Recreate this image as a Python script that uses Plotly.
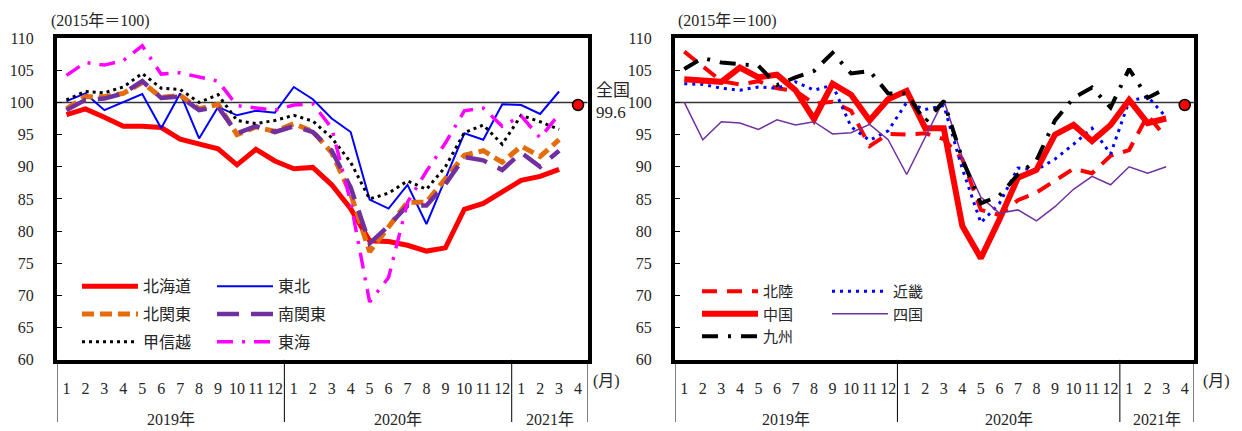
import plotly.graph_objects as go

# ---------------- data ----------------
periods = [f"{y}-{m:02d}" for y in (2019, 2020) for m in range(1, 13)] + [f"2021-{m:02d}" for m in range(1, 5)]
month_labels = [str(m) for m in range(1, 13)] * 2 + ["1", "2", "3", "4"]
year_labels = ["2019年", "2020年", "2021年"]
data_periods = periods[:27]          # 2019-01 .. 2021-03
national_period = periods[27]        # 2021-04
national = 99.6

hokkaido = [98.1, 99.0, 97.7, 96.3, 96.3, 96.1, 94.3, 93.5, 92.8, 90.3, 92.7, 90.9, 89.7, 89.9,
            87.2, 83.5, 78.5, 78.4, 77.8, 76.9, 77.4, 83.4, 84.3, 86.1, 87.9, 88.5, 89.6]
tohoku = [100.2, 101.4, 98.8, 100.0, 101.3, 96.0, 101.4, 94.4, 99.3, 98.0, 98.7, 98.4, 102.4, 100.5,
          97.5, 95.4, 84.9, 83.5, 87.2, 81.1, 88.3, 95.2, 94.2, 99.7, 99.6, 98.2, 101.7]
kitakanto = [99.0, 100.9, 100.9, 101.4, 103.1, 100.8, 101.1, 99.0, 99.7, 95.0, 96.2, 95.5, 96.7, 95.5,
             92.2, 85.8, 76.8, 80.8, 84.5, 84.5, 88.3, 91.8, 92.5, 90.7, 93.2, 91.6, 94.2]
minamikanto = [98.8, 100.4, 100.6, 101.4, 103.3, 100.7, 100.9, 98.8, 99.3, 95.2, 96.3, 95.4, 96.3, 95.4,
               92.5, 86.8, 78.1, 80.8, 84.0, 84.0, 87.3, 91.5, 91.0, 89.5, 92.2, 90.0, 92.5]
koshinetsu = [100.4, 101.7, 101.5, 102.4, 104.5, 102.2, 102.0, 100.0, 101.2, 97.2, 96.7, 97.2, 98.0, 97.1,
              94.5, 90.7, 85.0, 85.9, 87.8, 86.5, 90.0, 95.3, 96.5, 93.5, 98.0, 97.0, 95.8]
tokai = [104.2, 106.2, 105.8, 106.5, 108.8, 104.4, 104.6, 103.9, 103.3, 99.5, 99.2, 98.8, 99.6, 99.8,
         96.0, 84.5, 69.0, 72.8, 84.5, 89.3, 93.7, 98.7, 99.1, 96.3, 97.9, 94.5, 98.2]

hokuriku = [107.9, 105.5, 103.3, 102.8, 103.3, 102.2, 101.8, 99.8, 100.1, 98.7, 93.2, 95.1, 95.0, 95.2,
            94.3, 91.2, 83.3, 82.5, 84.8, 86.0, 87.8, 89.7, 89.0, 91.7, 92.6, 98.0, 94.5]
kinki = [102.9, 102.8, 102.2, 101.9, 102.4, 102.2, 103.2, 101.9, 102.7, 96.2, 94.1, 95.6, 100.0, 98.9,
         99.5, 89.7, 81.3, 84.3, 89.8, 89.5, 91.2, 93.5, 96.0, 92.0, 100.2, 100.9, 97.7]
chugoku = [103.6, 103.3, 103.2, 105.4, 103.9, 104.3, 101.9, 97.4, 102.9, 101.2, 97.2, 100.5, 101.8, 96.0,
           96.0, 80.8, 75.8, 81.8, 88.3, 89.5, 95.0, 96.5, 94.0, 96.5, 100.4, 96.8, 97.5]
shikoku = [100.0, 94.2, 97.0, 96.8, 95.8, 97.3, 96.5, 97.0, 95.1, 95.3, 96.6, 94.2, 88.8, 94.6,
           100.4, 91.5, 85.3, 82.8, 83.3, 81.6, 83.8, 86.5, 88.5, 87.2, 90.0, 89.0, 90.0]
kyushu = [105.2, 106.9, 106.2, 106.0, 105.7, 102.7, 103.9, 104.9, 107.7, 104.5, 104.9, 101.4, 101.4, 97.0,
          100.2, 91.2, 84.3, 85.5, 88.8, 91.0, 97.2, 100.7, 102.3, 99.2, 105.2, 100.7, 102.2]

# ---------------- styling ----------------
W, H = 1242, 431
FONT = "'Liberation Serif', 'Noto Sans CJK JP', serif"
TXT = "#262626"
RED, BLUE, ORANGE, PURPLE, MAGENTA, BLACK = "#FF0000", "#0000FF", "#E46C0A", "#7030A0", "#FF00FF", "#000000"


def px(x):
    return x / W


def py(y):
    return 1 - y / H


y_dom = [py(366.3), py(31.3)]
x_doms = [[px(57.0), px(587.5)], [px(675.0), px(1194.0)]]

left_series = [
    ("北海道", hokkaido, RED, 5, "solid", "legend"),
    ("東北", tohoku, BLUE, 2, "solid", "legend2"),
    ("北関東", kitakanto, ORANGE, 5, "12px,6px", "legend"),
    ("南関東", minamikanto, PURPLE, 4.5, "22px,12px", "legend2"),
    ("甲信越", koshinetsu, BLACK, 3, "3px,4px", "legend"),
    ("東海", tokai, MAGENTA, 3.5, "16px,9px,3px,9px", "legend2"),
]
right_series = [
    ("北陸", hokuriku, RED, 4, "15px,10px", "legend3"),
    ("近畿", kinki, BLUE, 3, "3px,5px", "legend4"),
    ("中国", chugoku, RED, 6, "solid", "legend3"),
    ("四国", shikoku, PURPLE, 1.5, "solid", "legend4"),
    ("九州", kyushu, BLACK, 4, "16px,10px,3px,10px", "legend3"),
]

fig = go.Figure()
for k, series in enumerate([left_series, right_series]):
    xa = "x" if k == 0 else "x2"
    ya = "y" if k == 0 else "y2"
    for name, vals, color, width, dash, leg in series:
        fig.add_trace(go.Scatter(
            x=data_periods, y=vals, name=name, mode="lines",
            line=dict(color=color, width=width, dash=dash),
            xaxis=xa, yaxis=ya, legend=leg, legendgroup=name,
        ))
    fig.add_trace(go.Scatter(
        x=[national_period], y=[national], mode="markers", showlegend=False,
        marker=dict(color=RED, size=11, line=dict(color=BLACK, width=1.5)),
        xaxis=xa, yaxis=ya, cliponaxis=False,
    ))

axis_common = dict(showline=True, mirror=True, linewidth=4, linecolor=BLACK, showgrid=False, zeroline=False)
layout = dict(
    width=W, height=H, margin=dict(l=0, r=0, t=0, b=0),
    paper_bgcolor="white", plot_bgcolor="white",
    font=dict(family=FONT, size=16, color=TXT),
    shapes=[], annotations=[],
)
for k in range(2):
    sx = "" if k == 0 else "2"
    layout["xaxis" + sx] = dict(
        axis_common, domain=x_doms[k], type="category", categoryorder="array", categoryarray=periods,
        range=[-0.5, 27.5], tickmode="array", tickvals=periods, ticktext=month_labels,
        ticks="", tickfont=dict(family=FONT, size=16, color=TXT), ticklabelstandoff=11,
        anchor="y" + sx,
    )
    layout["yaxis" + sx] = dict(
        axis_common, domain=y_dom, range=[60, 110], dtick=5, tick0=60,
        ticks="inside", ticklen=5, tickwidth=1, tickcolor=BLACK,
        tickfont=dict(family=FONT, size=16, color=TXT), ticklabelstandoff=16,
        anchor="x" + sx,
    )
    xr = "x" + sx
    # reference line at 100
    layout["shapes"].append(dict(type="line", xref=xr + " domain", x0=0, x1=1, yref="y" + sx, y0=100, y1=100,
                                 line=dict(color="#333333", width=1.5), layer="below"))
    # year separators below the axis
    for b in (-0.5, 11.5, 23.5, 27.5):
        layout["shapes"].append(dict(type="line", xref=xr, x0=b, x1=b, yref="paper", y0=0, y1=y_dom[0],
                                     line=dict(color=BLACK, width=1)))
    for lab, c in zip(year_labels, (5.5, 17.5, 25.5)):
        layout["annotations"].append(dict(text=lab, xref=xr, x=c, yref="paper", y=py(428), showarrow=False,
                                          xanchor="center", yanchor="middle", font=dict(size=16)))
    # unit labels
    layout["annotations"].append(dict(text="(2015年＝100)", xref="paper", yref="paper",
                                      x=px(49 if k == 0 else 676), y=py(14), xanchor="left", yanchor="middle",
                                      showarrow=False, font=dict(size=16)))
    layout["annotations"].append(dict(text="(月)", xref="paper", yref="paper",
                                      x=px(606 if k == 0 else 1216), y=py(388), xanchor="center", yanchor="middle",
                                      showarrow=False, font=dict(size=16)))

layout["annotations"].append(dict(text=f"全国<br>{national}", xref="paper", yref="paper", x=px(594), y=py(97),
                                  xanchor="left", yanchor="middle", align="left", showarrow=False,
                                  font=dict(size=17)))

leg_common = dict(bgcolor="rgba(0,0,0,0)", borderwidth=0, xanchor="left", yanchor="top",
                  orientation="v", traceorder="grouped", itemwidth=56, itemclick=False, itemdoubleclick=False)
layout["legend"] = dict(leg_common, x=px(77), y=py(272), tracegroupgap=4, font=dict(size=16))
layout["legend2"] = dict(leg_common, x=px(212), y=py(272), tracegroupgap=4, font=dict(size=16))
layout["legend3"] = dict(leg_common, x=px(697), y=py(278), tracegroupgap=0, font=dict(size=15))
layout["legend4"] = dict(leg_common, x=px(827), y=py(278), tracegroupgap=0, font=dict(size=15))

fig.update_layout(**layout)
fig.write_html("out.html", config={"displayModeBar": False},
               post_script="document.body.style.margin='0';document.body.style.overflow='hidden';")
